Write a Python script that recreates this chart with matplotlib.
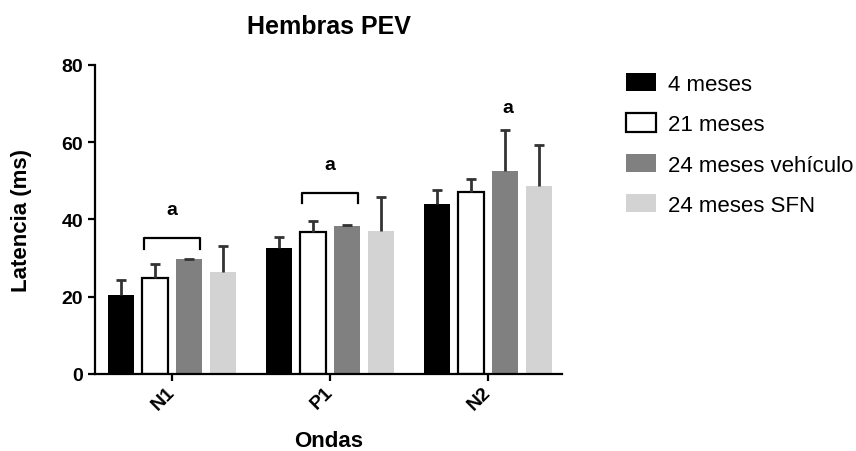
import matplotlib
matplotlib.use("Agg")
import matplotlib.pyplot as plt
import numpy as np

plt.rcParams['font.family'] = ['Liberation Sans', 'DejaVu Sans']

waves = ["N1", "P1", "N2"]
series = ["4 meses", "21 meses", "24 meses vehículo", "24 meses SFN"]
means = {
    "4 meses": [20.5, 32.6, 44.0],
    "21 meses": [24.8, 36.7, 47.2],
    "24 meses vehículo": [29.7, 38.3, 52.5],
    "24 meses SFN": [26.3, 37.1, 48.6],
}
errs = {
    "4 meses": [3.8, 2.8, 3.6],
    "21 meses": [3.8, 2.8, 3.4],
    "24 meses vehículo": [0.15, 0.15, 10.7],
    "24 meses SFN": [6.9, 8.8, 10.8],
}
colors = ["#000000", "#ffffff", "#808080", "#d3d3d3"]
edges = ["#000000", "#000000", "#808080", "#d3d3d3"]

fig = plt.figure(figsize=(8.56, 4.52), dpi=100)
ax = fig.add_axes([0.111, 0.1704, 0.5456, 0.6836])

x = np.arange(len(waves))
step = 0.215
width = 0.165
for i, s in enumerate(series):
    pos = x + (i - 1.5) * step
    m = np.array(means[s])
    e = np.array(errs[s])
    lw = 1.6 if s == "21 meses" else 0
    ax.bar(pos, m, width=width, color=colors[i], edgecolor=edges[i],
           linewidth=lw, label=s, zorder=2)
    ax.vlines(pos, m, m + e, color='#333333', lw=2, zorder=3)
    ax.plot(pos, m + e, ls='none', marker='_', markersize=7.5, mew=2,
            color='#333333', zorder=3)

# significance brackets
brackets = [(0, 35.1, 32.4, 42.5), (1, 46.9, 44.3, 54.2)]
for g, ytop, ytip, ya in brackets:
    x0 = g - 0.175
    x1 = g + 0.177
    ax.plot([x0, x0, x1, x1], [ytip, ytop, ytop, ytip], color='black', lw=1.6, zorder=4)
    ax.text(g, ya, "a", ha='center', va='center', fontsize=14, fontweight='bold')
ax.text(2 + 0.5 * step + 0.02, 69.0, "a", ha='center', va='center', fontsize=14, fontweight='bold')

ax.set_xlim(-0.487, 2.468)
ax.set_ylim(0, 80)
ax.set_yticks([0, 20, 40, 60, 80])
ax.set_xticks(x)
ax.set_xticklabels(waves, rotation=45, fontweight='bold', fontsize=14,
                   ha='right', va='center', rotation_mode='anchor')
for lab in ax.get_yticklabels():
    lab.set_fontweight('bold')
    lab.set_fontsize(14)
ax.spines['top'].set_visible(False)
ax.spines['right'].set_visible(False)
ax.spines['left'].set_linewidth(1.6)
ax.spines['bottom'].set_linewidth(1.6)
ax.tick_params(width=1.6, length=5)
ax.tick_params(axis='x', pad=6)
ax.set_xlabel("Ondas", fontweight='bold', fontsize=16)
ax.set_ylabel("Latencia (ms)", fontweight='bold', fontsize=16)
ax.xaxis.set_label_coords(0.5, -0.18)
ax.yaxis.set_label_coords(-0.135, 0.5)
ax.set_title("Hembras PEV", fontweight='bold', fontsize=18, pad=23)

leg = fig.legend(loc='upper left', bbox_to_anchor=(626 / 856, 1 - 74 / 452),
                 frameon=False, fontsize=16, handlelength=1.35, handleheight=0.9,
                 labelspacing=0.83, handletextpad=0.55, borderpad=0, borderaxespad=0)

fig.savefig("out.png", dpi=100)
